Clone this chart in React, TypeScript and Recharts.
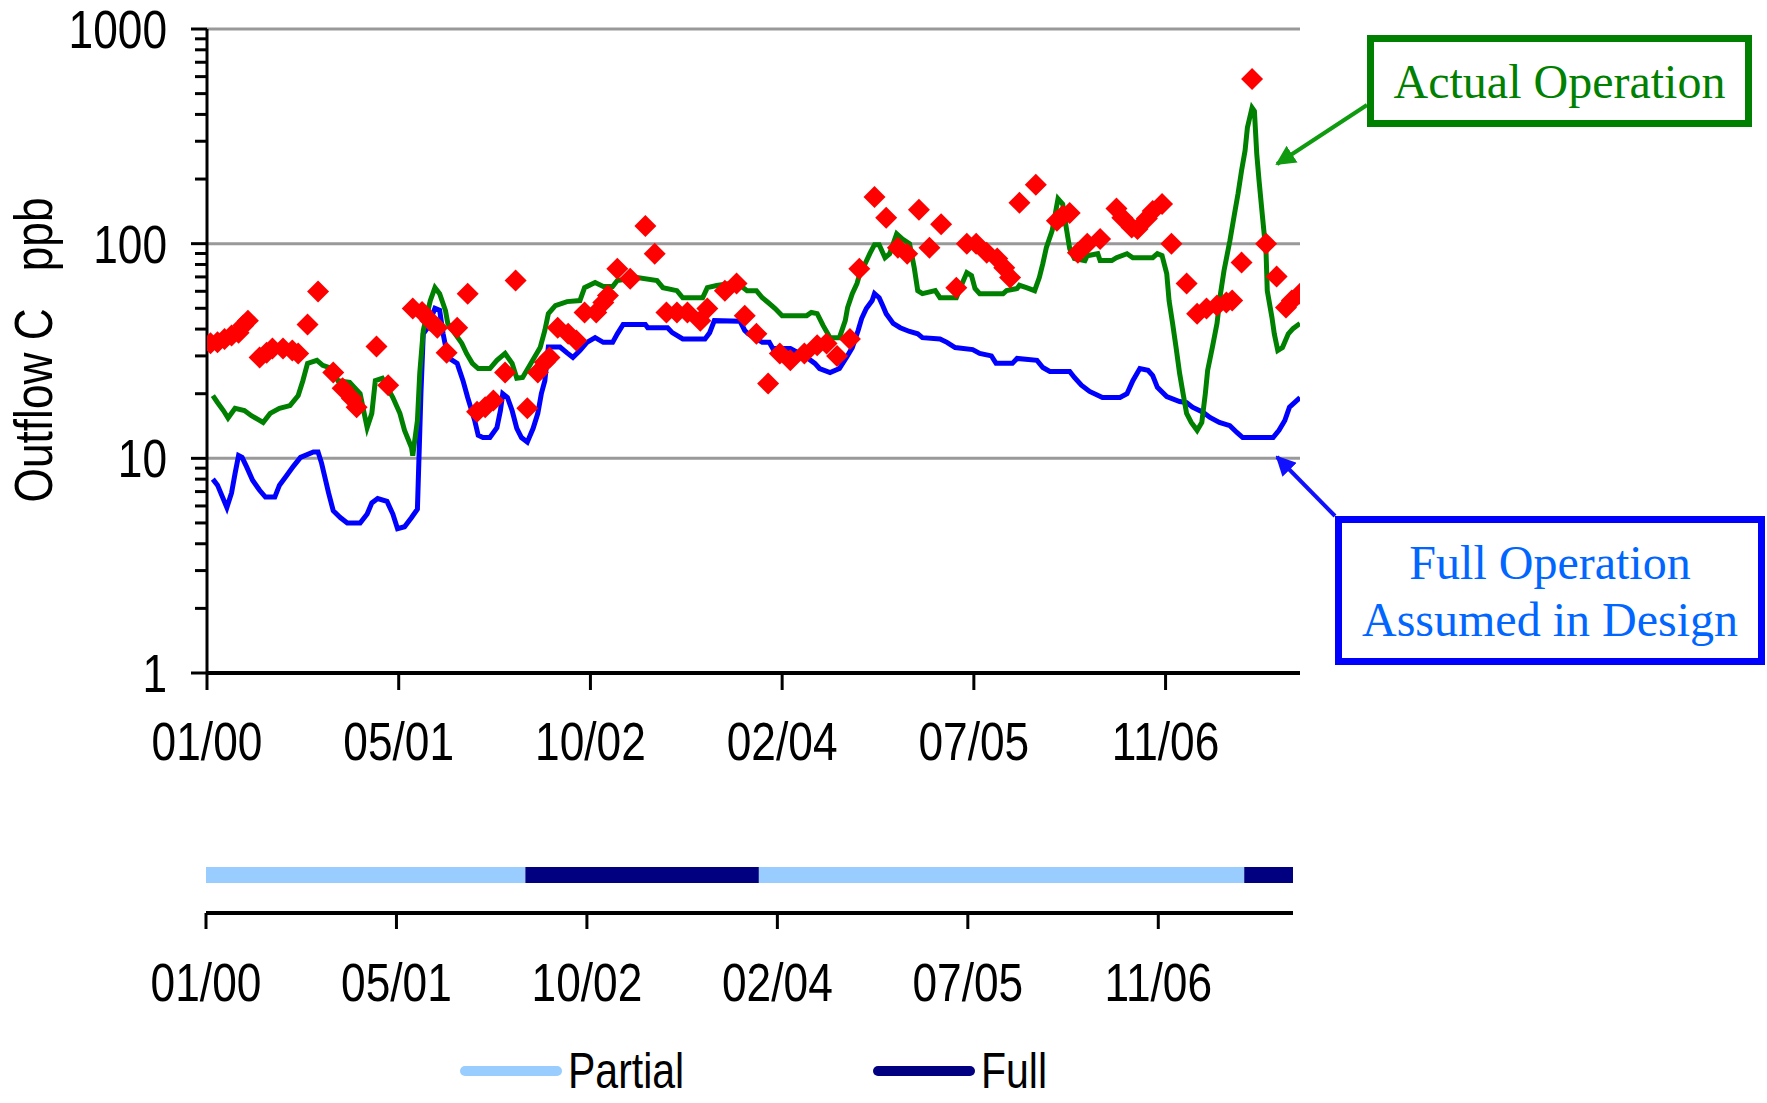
import React from "react";
import {
  ComposedChart,
  Line,
  Scatter,
  XAxis,
  YAxis,
  CartesianGrid,
  Legend,
} from "recharts";

const FONT = '"Liberation Sans", Arial, sans-serif';
const SERIF = '"Liberation Serif", "Times New Roman", serif';
const NARROW = 0.82; // the reference uses a condensed sans face

const GREEN = "#008000";
const BLUE = "#0000ff";
const RED = "#ff0000";
const PARTIAL = "#99ccff";
const FULL = "#000080";
const GRID = "#999999";

// x = months since Jan 2000
const tickMonths = [0, 16.4, 32.8, 49.2, 65.6, 82];
const tickLabels = ["01/00", "05/01", "10/02", "02/04", "07/05", "11/06"];
const yMajor = [1, 10, 100, 1000];
const yTicks = [
  1, 2, 3, 4, 5, 6, 7, 8, 9, 10, 20, 30, 40, 50, 60, 70, 80, 90, 100, 200, 300,
  400, 500, 600, 700, 800, 900, 1000,
];

// Full Operation Assumed in Design (blue)
const fullDesign: [number, number][] = [
  [0.5, 8.0], [0.9, 7.5], [1.7, 5.9], [2.1, 6.9], [2.4, 8.5], [2.7, 10.3], [3.0, 10.1],
  [3.4, 9.1], [3.9, 7.9], [4.5, 7.1], [5.0, 6.6], [5.8, 6.6], [6.2, 7.5], [6.8, 8.3],
  [7.4, 9.2], [8.0, 10.1], [9.1, 10.7], [9.5, 10.7], [9.8, 9.5], [10.1, 8.1], [10.4, 6.9],
  [10.8, 5.7], [11.4, 5.3], [12.0, 5.0], [13.1, 5.0], [13.7, 5.5], [14.1, 6.2], [14.6, 6.5],
  [15.4, 6.3], [15.9, 5.5], [16.3, 4.7], [16.9, 4.8], [17.5, 5.3], [18.0, 5.8], [18.3, 20],
  [18.5, 38], [18.8, 40], [19.5, 50], [19.9, 49], [20.2, 38], [20.6, 29.5], [21.4, 27.7],
  [21.9, 23], [22.3, 19.2], [22.9, 15], [23.2, 12.8], [23.6, 12.5], [24.2, 12.5], [24.8, 13.9],
  [25.1, 16.7], [25.3, 20], [25.7, 19.2], [26.1, 16.7], [26.5, 13.8], [26.9, 12.5], [27.4, 11.9],
  [27.9, 13.8], [28.3, 16.2], [28.6, 20], [28.9, 23], [29.2, 33], [30.2, 33], [30.8, 31],
  [31.3, 29.5], [31.9, 31.8], [32.5, 34.7], [33.2, 36.5], [33.9, 34.7], [34.7, 34.7], [35.1, 38],
  [35.6, 42], [37.5, 42], [37.7, 40.6], [39.4, 40.6], [39.8, 38.5], [40.7, 36], [42.6, 36],
  [43.0, 38.5], [43.4, 43.8], [45.6, 43.5], [46.0, 39.4], [46.3, 38], [47.5, 34.7], [48.1, 34.7],
  [48.4, 32.5], [49.9, 32.5], [51.3, 29.5], [52.0, 27.7], [52.4, 26.2], [53.3, 25.1], [54.1, 26.2],
  [54.7, 29.5], [55.2, 32.8], [55.7, 39.4], [56.0, 44.8], [56.4, 49.9], [56.9, 54.3], [57.1, 58.5],
  [57.5, 56], [57.8, 51.5], [58.1, 47.2], [58.7, 42.5], [59.3, 40.6], [60.1, 39], [60.8, 38],
  [61.2, 36.5], [62.7, 36], [63.3, 34.7], [64.0, 32.8], [65.5, 32.1], [66.1, 30.8], [67.1, 30],
  [67.5, 27.7], [68.9, 27.7], [69.3, 29.2], [71.0, 28.6], [71.5, 26.5], [72.1, 25.4], [73.8, 25.4],
  [74.2, 23.8], [74.8, 21.9], [75.5, 20.5], [76.6, 19.2], [78.1, 19.2], [78.7, 20], [79.2, 23],
  [79.8, 26.2], [80.5, 25.7], [80.9, 24.3], [81.3, 21.4], [82.1, 19.4], [83.2, 18.4], [83.8, 18.2],
  [84.3, 17.3], [85.2, 16.4], [85.8, 15.5], [86.6, 14.7], [87.5, 14.2], [88.1, 13.2], [88.6, 12.5],
  [91.2, 12.5], [91.7, 13.5], [92.2, 15], [92.6, 17.3], [93.5, 19.2],
];

// Actual Operation (green)
const actualOp: [number, number][] = [
  [0.5, 19.6], [0.9, 18.2], [1.4, 16.7], [1.8, 15.4], [2.4, 17.1], [3.2, 16.7], [3.8, 15.8],
  [4.8, 14.7], [5.4, 16.2], [6.2, 17.1], [7.1, 17.6], [7.8, 19.6], [8.2, 23], [8.6, 27.7],
  [9.4, 28.6], [9.9, 27.1], [10.7, 26.2], [11.2, 23], [12.2, 22.6], [13.1, 20], [13.7, 13.9],
  [14.1, 16.2], [14.4, 23], [15.0, 23.6], [15.9, 19.2], [16.5, 16.2], [16.9, 13.5], [17.5, 11.2],
  [17.6, 10.3], [18.0, 15], [18.2, 24.9], [18.5, 39.4], [19.1, 54.3], [19.5, 62.4], [19.9, 58.5],
  [20.4, 48.8], [20.6, 42.5], [21.8, 34.3], [22.2, 30.8], [22.7, 27.7], [23.2, 26.2], [24.2, 26.2],
  [24.8, 28.6], [25.5, 30.8], [26.1, 27.7], [26.5, 23.6], [27.0, 23.8], [27.6, 27.1], [28.5, 32.8],
  [28.9, 39.4], [29.2, 47.2], [29.8, 51.5], [30.8, 53.7], [31.9, 54.3], [32.3, 62.4], [33.2, 65.9],
  [33.9, 63.1], [34.7, 63.1], [35.1, 67.3], [36.8, 69.5], [38.5, 67.3], [39.0, 62.4], [40.2, 60.4],
  [40.7, 56], [42.4, 56], [42.8, 62.4], [43.6, 63.8], [45.3, 65.9], [46.2, 60.4], [47.0, 60.4],
  [47.5, 56], [48.0, 53.2], [48.6, 49.9], [49.2, 46.2], [51.3, 46.2], [51.7, 47.8], [52.2, 47.2],
  [52.7, 41.6], [53.3, 36.5], [54.1, 36.5], [54.6, 43.8], [54.8, 50.4], [55.2, 58.5], [55.6, 65.2],
  [55.8, 71], [56.3, 80.7], [56.7, 89.8], [57.1, 98.9], [57.5, 98.9], [58.0, 86], [58.4, 89.8],
  [59.0, 111], [59.5, 105], [60.1, 100], [60.5, 77.3], [60.8, 60.4], [61.2, 58.5], [62.3, 60.4],
  [62.7, 56], [64.1, 56], [64.6, 65.2], [65.0, 73.3], [65.4, 71], [65.7, 61.8], [66.1, 58.5],
  [68.1, 58.5], [68.4, 60.4], [69.3, 61.8], [69.5, 64], [70.1, 62.4], [70.8, 60.4], [71.2, 69.5],
  [71.5, 80.7], [71.8, 95.8], [72.3, 115], [72.8, 162], [73.2, 153], [73.5, 119], [73.8, 94.8],
  [74.2, 85.2], [75.1, 83.4], [75.3, 87.9], [76.2, 89.8], [76.4, 83.4], [77.4, 83.4], [77.8, 86],
  [78.7, 89.8], [79.2, 86], [80.9, 86], [81.3, 89.8], [81.7, 87.9], [82.1, 72.5], [82.3, 54.3],
  [82.6, 42.5], [82.9, 32.8], [83.2, 24.9], [83.5, 20], [83.8, 16.2], [84.2, 14.7], [84.7, 13.5],
  [85.1, 14.7], [85.4, 20], [85.6, 25.7], [86.0, 32.8], [86.4, 42.5], [86.7, 58.5], [87.0, 74.9],
  [87.5, 103], [87.9, 138], [88.2, 171], [88.5, 219], [88.8, 271], [89.0, 347], [89.4, 430],
  [89.6, 415], [89.8, 262], [90.0, 196], [90.3, 132], [90.6, 89.8], [90.7, 60.4], [91.1, 45.3],
  [91.3, 38], [91.6, 31.8], [92.0, 32.8], [92.5, 38], [92.9, 40.2], [93.5, 42.5],
];

// Measured outflow (red diamonds)
const observed: [number, number][] = [
  [0.3, 34.4], [0.9, 34.7], [1.5, 36], [2.1, 37.3], [2.7, 38.5], [3.1, 41.6], [3.5, 43.8],
  [4.5, 29.5], [5.1, 31], [5.6, 32.5], [6.5, 32.5], [7.3, 31.8], [7.8, 30.8], [8.6, 42],
  [9.5, 59.8], [10.8, 25.1], [11.6, 21.2], [12.4, 19], [12.8, 17.3], [14.5, 33.2], [15.5, 21.9],
  [17.6, 49.9], [18.4, 48], [19.1, 43.8], [19.7, 40.6], [20.5, 31], [21.4, 40.6], [22.3, 58.5],
  [23.1, 16.5], [23.8, 17.3], [24.5, 18.6], [25.5, 25.1], [26.4, 67.3], [27.4, 17.1], [28.3, 25.1],
  [28.9, 28], [29.3, 29.5], [30.0, 40.6], [30.9, 38], [31.6, 35.4], [32.3, 47.8], [33.3, 47.8],
  [33.9, 53.2], [34.3, 57.3], [35.1, 76.5], [36.2, 68.7], [37.5, 121], [38.3, 89.8], [39.3, 47.8],
  [40.2, 47.8], [41.1, 47.8], [42.2, 43.8], [42.8, 49.9], [44.3, 60.4], [45.3, 65.2], [46.0, 46.2],
  [47.0, 38], [48.0, 22.3], [49.0, 30.8], [49.9, 28.6], [51.1, 30.8], [52.2, 33.6], [53.0, 34.3],
  [53.9, 30], [55.0, 36], [55.8, 76.5], [57.1, 165], [58.1, 132], [59.1, 95.8], [59.9, 89.8],
  [60.9, 144], [61.8, 95.8], [62.8, 123], [64.1, 62.4], [65.0, 100], [65.8, 100], [66.7, 90.8],
  [67.6, 85.2], [68.2, 77.3], [68.7, 69.5], [69.5, 155], [70.9, 188], [72.7, 128], [73.2, 135],
  [73.8, 139], [74.5, 90.8], [75.3, 100], [76.4, 105], [77.8, 146], [78.3, 132], [79.1, 119],
  [79.6, 117], [80.4, 131], [80.9, 142], [81.7, 153], [82.5, 100], [83.8, 65.2], [84.7, 47.2],
  [85.5, 49.9], [86.4, 51.5], [87.2, 53.2], [87.7, 54.3], [88.5, 81.6], [89.4, 585], [90.6, 100],
  [91.5, 70.3], [92.3, 50.4], [92.8, 54.3], [93.5, 58.5],
];

// operating mode periods (months since Jan 2000)
const periods = [
  { from: 0, to: 27.5, mode: "Partial" },
  { from: 27.5, to: 47.6, mode: "Full" },
  { from: 47.6, to: 89.4, mode: "Partial" },
  { from: 89.4, to: 93.6, mode: "Full" },
];
const legendItems = [
  { name: "Partial", color: PARTIAL },
  { name: "Full", color: FULL },
];

const toRows = (pts: [number, number][]) => pts.map(([t, v]) => ({ t, v }));

const modeRows = (mode: string) => {
  const rows: { t: number; v: number | null }[] = [];
  periods.forEach((p) => {
    if (p.mode !== mode) return;
    if (rows.length) rows.push({ t: p.from - 0.01, v: null });
    rows.push({ t: p.from, v: 1 }, { t: p.to, v: 1 });
  });
  return rows;
};

const fmtTick = (v: number) => {
  const i = tickMonths.findIndex((m) => Math.abs(m - v) < 0.01);
  return i >= 0 ? tickLabels[i] : "";
};

const XTick = (props: any) => {
  const { x, y, payload } = props;
  return (
    <text
      transform={`translate(${x},${y}) scale(${NARROW},1)`}
      textAnchor="middle"
      dy="0.71em"
      fontFamily={FONT}
      fontSize={54}
      fill="#000"
    >
      {fmtTick(payload.value)}
    </text>
  );
};

const YTick = (props: any) => {
  const { x, y, payload } = props;
  const v = payload.value;
  const major = yMajor.includes(v);
  return (
    <g>
      <line x1={x - (major ? 16 : 12)} x2={x} y1={y} y2={y} stroke="#000" strokeWidth={3} />
      {major && (
        <text
          transform={`translate(${x - 40},${y}) scale(${NARROW},1)`}
          textAnchor="end"
          dominantBaseline="central"
          fontFamily={FONT}
          fontSize={54}
          fill="#000"
        >
          {v}
        </text>
      )}
    </g>
  );
};

const Diamond = (p: any) => {
  const { cx, cy } = p;
  const r = 11;
  return (
    <polygon
      points={`${cx},${cy - r} ${cx + r},${cy} ${cx},${cy + r} ${cx - r},${cy}`}
      fill={RED}
    />
  );
};

const LegendContent = () => (
  <div style={{ display: "flex", fontFamily: FONT, fontSize: 50, lineHeight: "58px", color: "#000" }}>
    {legendItems.map((it) => (
      <div key={it.name} style={{ display: "flex", alignItems: "center", width: 413 }}>
        <div style={{ width: 102, height: 10, background: it.color, borderRadius: 5, marginRight: 6 }} />
        <span style={{ display: "inline-block", transform: `scaleX(${NARROW})`, transformOrigin: "left center" }}>
          {it.name}
        </span>
      </div>
    ))}
  </div>
);

export default function App() {
  return (
    <div
      style={{
        position: "absolute",
        left: 0,
        top: 0,
        width: 1767,
        height: 1103,
        background: "#fff",
        overflow: "hidden",
      }}
    >
      <div style={{ position: "absolute", left: 0, top: 0 }}>
        <ComposedChart width={1767} height={800} margin={{ top: 29, right: 467, left: 87, bottom: 47 }}>
          <CartesianGrid vertical={false} horizontalValues={[10, 100, 1000]} stroke={GRID} strokeWidth={3} />
          <XAxis
            type="number"
            dataKey="t"
            domain={[0, 93.5]}
            ticks={tickMonths}
            interval={0}
            height={80}
            axisLine={{ stroke: "#000", strokeWidth: 4 }}
            tickLine={{ stroke: "#000", strokeWidth: 3 }}
            tickSize={17}
            tickMargin={32}
            tick={<XTick />}
            allowDataOverflow
          />
          <YAxis
            dataKey="v"
            scale="log"
            domain={[1, 1000]}
            ticks={yTicks}
            interval={0}
            width={120}
            axisLine={{ stroke: "#000", strokeWidth: 3 }}
            tickLine={false}
            tickSize={0}
            tickMargin={0}
            tick={<YTick />}
            allowDataOverflow
          />
          <Line
            data={toRows(fullDesign)}
            dataKey="v"
            type="linear"
            stroke={BLUE}
            strokeWidth={5}
            dot={false}
            isAnimationActive={false}
          />
          <Line
            data={toRows(actualOp)}
            dataKey="v"
            type="linear"
            stroke={GREEN}
            strokeWidth={5}
            dot={false}
            isAnimationActive={false}
          />
          <Scatter data={toRows(observed)} dataKey="v" shape={<Diamond />} isAnimationActive={false} />
        </ComposedChart>
      </div>

      <svg
        width={1767}
        height={800}
        style={{ position: "absolute", left: 0, top: 0, pointerEvents: "none" }}
      >
        <text
          transform={`translate(52,350) rotate(-90) scale(${NARROW},1)`}
          textAnchor="middle"
          fontFamily={FONT}
          fontSize={54}
          fill="#000"
          style={{ whiteSpace: "pre" }}
        >
          {"Outflow C   ppb"}
        </text>
        <defs>
          <marker id="ag" viewBox="0 0 10 10" refX="9" refY="5" markerWidth="5" markerHeight="5" orient="auto">
            <path d="M0,0 L10,5 L0,10 z" fill="#109a10" />
          </marker>
          <marker id="ab" viewBox="0 0 10 10" refX="9" refY="5" markerWidth="5" markerHeight="5" orient="auto">
            <path d="M0,0 L10,5 L0,10 z" fill="#1010ff" />
          </marker>
        </defs>
        <line x1={1367} y1={105} x2={1277} y2={164} stroke="#109a10" strokeWidth={4} markerEnd="url(#ag)" />
        <line x1={1335} y1={516} x2={1277} y2={457} stroke="#1010ff" strokeWidth={4} markerEnd="url(#ab)" />
      </svg>

      <div
        style={{
          position: "absolute",
          left: 1367,
          top: 35,
          width: 385,
          height: 92,
          border: `7px solid ${GREEN}`,
          boxSizing: "border-box",
          display: "flex",
          alignItems: "center",
          justifyContent: "center",
          fontFamily: SERIF,
          fontSize: 48,
          color: GREEN,
          background: "#fff",
        }}
      >
        Actual Operation
      </div>
      <div
        style={{
          position: "absolute",
          left: 1335,
          top: 516,
          width: 430,
          height: 149,
          border: `7px solid ${BLUE}`,
          boxSizing: "border-box",
          display: "flex",
          flexDirection: "column",
          alignItems: "center",
          justifyContent: "center",
          fontFamily: SERIF,
          fontSize: 48,
          lineHeight: "57px",
          color: "#0066ff",
          background: "#fff",
          textAlign: "center",
        }}
      >
        <div>Full Operation</div>
        <div>Assumed in Design</div>
      </div>

      <div style={{ position: "absolute", left: 0, top: 820 }}>
        <ComposedChart width={1767} height={283} margin={{ top: 17, right: 474, left: 206, bottom: 110 }}>
          <XAxis
            type="number"
            dataKey="t"
            domain={[0, 93.6]}
            ticks={tickMonths}
            interval={0}
            height={80}
            axisLine={{ stroke: "#000", strokeWidth: 4 }}
            tickLine={{ stroke: "#000", strokeWidth: 3 }}
            tickSize={16}
            tickMargin={34}
            tick={<XTick />}
          />
          <YAxis dataKey="v" hide domain={[0, 2]} />
          <Line
            data={modeRows("Partial")}
            dataKey="v"
            stroke={PARTIAL}
            strokeWidth={16}
            dot={false}
            isAnimationActive={false}
          />
          <Line
            data={modeRows("Full")}
            dataKey="v"
            stroke={FULL}
            strokeWidth={16}
            dot={false}
            isAnimationActive={false}
          />
          <Legend
            layout="horizontal"
            verticalAlign="middle"
            align="center"
            content={<LegendContent />}
            wrapperStyle={{ position: "absolute", left: 460, top: 222, width: 900 }}
          />
        </ComposedChart>
      </div>
    </div>
  );
}
